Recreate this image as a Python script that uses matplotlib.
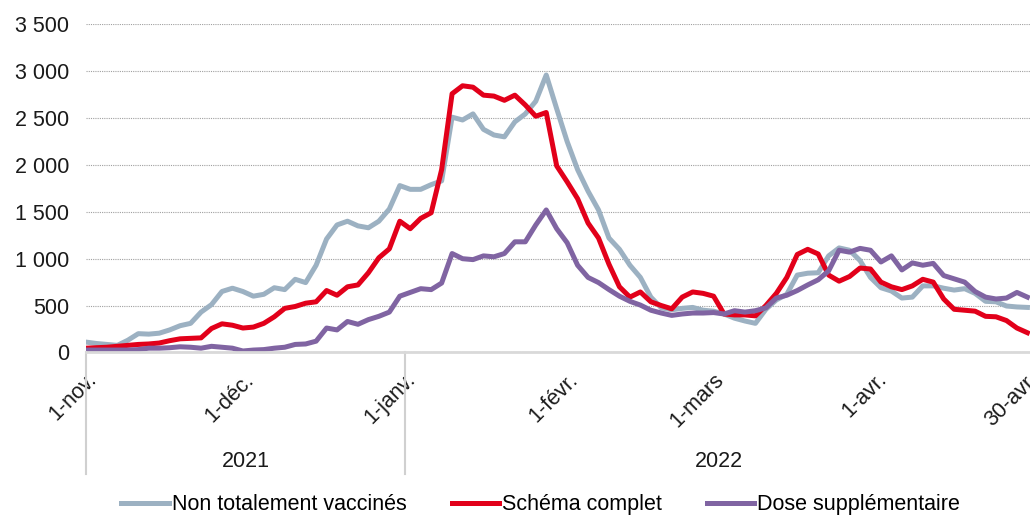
import matplotlib
matplotlib.use("Agg")
import matplotlib.pyplot as plt
import matplotlib.transforms as mtransforms
from matplotlib.ticker import FuncFormatter
import pandas as pd

plt.rcParams['font.family'] = ['Liberation Sans', 'DejaVu Sans']

# data: every second day from 1 Nov 2021 to 30 Apr 2022
dates = pd.date_range('2021-11-01', '2022-04-30', freq='2D')

non_vaccines = [110, 95, 85, 75, 130, 200, 195, 205, 240, 285,
                310, 430, 510, 650, 685, 650, 600, 620, 690, 670,
                780, 745, 930, 1210, 1360, 1400, 1350, 1330, 1400, 1530,
                1780, 1740, 1740, 1790, 1830, 2510, 2480, 2545, 2380, 2320,
                2300, 2460, 2545, 2680, 2960, 2600, 2250, 1950, 1720, 1520,
                1220, 1100, 930, 800, 590, 475, 455, 470, 480, 450,
                440, 410, 365, 335, 310, 460, 560, 620, 825, 845,
                850, 1030, 1115, 1090, 980, 800, 690, 655, 580, 590,
                710, 710, 685, 665, 680, 630, 545, 540, 495, 485,
                480]

schema_complet = [45, 50, 55, 65, 75, 85, 90, 100, 125, 145,
                  150, 155, 255, 305, 290, 260, 270, 310, 380, 470,
                  490, 525, 540, 660, 610, 700, 720, 850, 1010, 1105,
                  1400, 1320, 1430, 1490, 1950, 2760, 2845, 2830, 2745, 2735,
                  2690, 2745, 2640, 2520, 2560, 1990, 1820, 1640, 1380, 1220,
                  940, 700, 590, 645, 540, 500, 465, 590, 645, 630,
                  600, 410, 400, 400, 390, 500, 630, 800, 1045, 1100,
                  1050, 825, 760, 810, 900, 890, 750, 700, 670, 710,
                  780, 750, 570, 460, 450, 440, 385, 380, 340, 260,
                  210]

dose_supp = [25, 25, 25, 25, 25, 30, 45, 45, 50, 60,
             55, 45, 65, 55, 45, 15, 25, 30, 45, 55,
             85, 90, 120, 260, 240, 330, 300, 350, 385, 430,
             600, 640, 680, 670, 740, 1055, 1000, 990, 1030, 1020,
             1055, 1180, 1180, 1360, 1520, 1320, 1170, 930, 800, 745,
             670, 600, 545, 505, 450, 420, 395, 410, 420, 420,
             425, 410, 445, 430, 445, 475, 580, 610, 660, 720,
             775, 870, 1090, 1070, 1110, 1090, 965, 1030, 880, 955,
             930, 950, 820, 785, 750, 650, 590, 570, 580, 640,
             590]

series_labels = ['Non totalement vaccinés', 'Schéma complet', 'Dose supplémentaire']
series_colors = ['#9cb1c2', '#e2001a', '#8064a2']

tick_dates = pd.to_datetime(['2021-11-01', '2021-12-01', '2022-01-01', '2022-02-01',
                             '2022-03-01', '2022-04-01', '2022-04-30'])
tick_labels = ['1-nov.', '1-déc.', '1-janv.', '1-févr.', '1-mars', '1-avr.', '30-avr.']
years = ['2021', '2022']
year_starts = pd.to_datetime(['2021-11-01', '2022-01-01'])
year_ends = pd.to_datetime(['2022-01-01', '2022-05-01'])

FS = 15.5

fig = plt.figure(figsize=(10.30, 5.15), dpi=100)
ax = fig.add_axes([86 / 1030, 1 - 352.4 / 515, 1 - 86 / 1030, (352.4 - 24.4) / 515])

for vals, lab, col in zip([non_vaccines, schema_complet, dose_supp], series_labels, series_colors):
    ax.plot(dates, vals, color=col, lw=3.6, label=lab, solid_joinstyle='round')

ax.set_ylim(0, 3500)
ax.set_yticks(range(0, 3501, 500))
ax.yaxis.set_major_formatter(FuncFormatter(lambda v, p: f'{int(v):,}'.replace(',', ' ')))
ax.set_xlim(pd.Timestamp('2021-11-01'), pd.Timestamp('2022-04-30') + pd.Timedelta(days=0.5))
ax.set_xticks(tick_dates)
ax.set_xticklabels(tick_labels, rotation=45, ha='right', va='top', rotation_mode='anchor')

ax.grid(axis='y', color='#a0a0a0', linestyle=(0, (1, 1)), linewidth=0.8)
ax.set_axisbelow(True)
for s in ['top', 'right', 'left']:
    ax.spines[s].set_visible(False)
ax.spines['bottom'].set_color('#d9d9d9')
ax.spines['bottom'].set_linewidth(2)
ax.tick_params(axis='both', length=0, labelsize=FS, colors='#1a1a1a')
ax.tick_params(axis='y', pad=12)
ax.tick_params(axis='x', pad=12)

# year row under the date labels
trans = mtransforms.blended_transform_factory(ax.transData, ax.transAxes)
for d in year_starts:
    ax.plot([d, d], [0, -0.372], transform=trans, color='#d0d0d0', lw=1.5, clip_on=False)
for y, a, b in zip(years, year_starts, year_ends):
    mid = a + (b - a) / 2
    ax.text(mid, -0.334, y, transform=trans, ha='center', va='center', fontsize=FS, color='#1a1a1a')

fig.legend(loc='center', bbox_to_anchor=(0.525, 0.02), ncol=3, frameon=False,
           fontsize=FS, handlelength=2.2, handletextpad=0.14, columnspacing=2.1,
           borderpad=0)

fig.savefig('out.png', dpi=100)
